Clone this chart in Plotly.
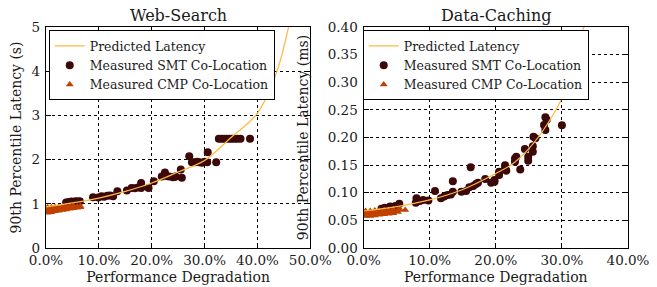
import plotly.graph_objects as go

# ---------------- Data ----------------
# Web-Search (x: performance degradation %, y: 90th percentile latency s)
ws_pred_x = [0, 5, 10, 15, 20, 25, 30, 35, 40, 43.7, 45.9, 47]
ws_pred_y = [0.93, 1.02, 1.13, 1.28, 1.47, 1.72, 1.98, 2.5, 3.05, 4.0, 5.0, 5.6]

ws_smt_x = [3.8, 4.3, 4.8, 5.2, 5.6, 6.0, 6.4, 5.0, 5.8,
            8.9, 9.9, 10.5, 11.0, 11.6, 12.1, 12.7, 13.5,
            15.3, 16.2, 16.8, 17.4, 18.0, 18.0, 19.4, 20.4,
            21.9, 22.5, 22.8, 23.3, 24.0, 24.4, 24.5, 25.5, 25.7,
            27.1, 27.6, 28.1, 28.6, 29.0, 29.5, 30.0, 30.5, 30.6, 32.2,
            32.7, 33.2, 33.7, 34.2, 34.7, 35.2, 35.7, 36.2, 36.8, 38.6]
ws_smt_y = [1.03, 1.04, 1.05, 1.04, 1.06, 1.05, 1.06, 1.02, 1.03,
            1.15, 1.14, 1.17, 1.16, 1.18, 1.19, 1.17, 1.285,
            1.30, 1.36, 1.35, 1.37, 1.36, 1.47, 1.36, 1.51,
            1.62, 1.71, 1.63, 1.62, 1.60, 1.61, 1.62, 1.775, 1.59,
            2.075, 1.94, 1.94, 1.95, 1.94, 1.93, 1.95, 1.94, 2.165, 1.94,
            2.47, 2.47, 2.47, 2.47, 2.47, 2.47, 2.47, 2.47, 2.47, 2.47]

ws_cmp_x = [0.3, 0.3, 0.3, 1.0, 1.0, 1.0, 1.7, 1.7, 1.7, 2.4, 2.4, 2.4,
            3.1, 3.1, 3.1, 3.8, 3.8, 3.8, 4.5, 4.5, 4.5, 5.2, 5.2, 5.2,
            5.9, 5.9, 6.5, 6.5]
ws_cmp_y = [0.80, 0.86, 0.92, 0.81, 0.87, 0.92, 0.83, 0.88, 0.93, 0.84, 0.89, 0.93,
            0.86, 0.90, 0.94, 0.87, 0.91, 0.94, 0.89, 0.92, 0.95, 0.90, 0.93, 0.95,
            0.91, 0.94, 0.92, 0.95]

# Data-Caching (x: performance degradation %, y: 90th percentile latency ms)
dc_pred_x = [0, 5, 10, 15, 20, 22.5, 25, 27, 28.5, 30, 31, 32, 33.3, 34]
dc_pred_y = [0.067, 0.075, 0.087, 0.106, 0.135, 0.152, 0.18, 0.21, 0.238,
             0.272, 0.32, 0.355, 0.40, 0.43]

dc_smt_x = [2.7, 3.2, 4.0, 4.5, 4.8, 5.4,
            7.9, 8.0, 8.5, 9.0, 9.8, 10.8,
            11.7, 12.2, 12.7, 13.2, 13.5, 13.5,
            14.8, 15.5, 16.0, 16.2, 16.6, 17.0, 17.3, 18.4, 19.3, 19.8, 19.8,
            20.5, 20.5, 21.4, 21.4, 21.6, 22.9, 22.9, 23.1, 23.7, 24.4,
            24.9, 24.9, 25.6, 25.6, 25.7, 26.0, 27.3, 27.5, 27.5, 27.7, 30.0]
dc_smt_y = [0.071, 0.073, 0.075, 0.074, 0.076, 0.080,
            0.082, 0.090, 0.085, 0.087, 0.086, 0.103,
            0.090, 0.093, 0.096, 0.097, 0.102, 0.121,
            0.102, 0.103, 0.110, 0.146, 0.112, 0.116, 0.118, 0.125, 0.118, 0.123, 0.120,
            0.138, 0.132, 0.150, 0.145, 0.140, 0.162, 0.156, 0.165, 0.142, 0.179,
            0.165, 0.158, 0.184, 0.174, 0.2015, 0.1985, 0.2226, 0.2136, 0.2365, 0.232, 0.222]

dc_cmp_x = [0.3, 0.3, 0.3, 1.0, 1.0, 1.0, 1.7, 1.7, 1.7, 2.4, 2.4, 2.4,
            3.1, 3.1, 3.1, 3.8, 3.8, 3.8, 4.5, 4.5, 4.5, 5.2, 5.2, 5.5, 6.3]
dc_cmp_y = [0.058, 0.063, 0.067, 0.058, 0.063, 0.067, 0.059, 0.064, 0.068,
            0.060, 0.064, 0.068, 0.061, 0.065, 0.069, 0.062, 0.066, 0.069,
            0.063, 0.067, 0.070, 0.065, 0.069, 0.070, 0.069]

ws_xticks = [0, 10, 20, 30, 40, 50]
dc_xticks = [0, 10, 20, 30, 40]
ws_yticks = [0, 1, 2, 3, 4, 5]
dc_yticks = [0.00, 0.05, 0.10, 0.15, 0.20, 0.25, 0.30, 0.35, 0.40]

# ---------------- Style ----------------
FONT = "DejaVu Serif"
TXT = "#1a1a1a"
FS_TICK = 13.5
FS_TITLE = 14
FS_LEG = 12.5
C_PRED = "#FFB940"
C_SMT = "#3D0808"
C_CMP = "#C04000"

fig = go.Figure()


def add_panel(xa, ya, leg, px, py, sx, sy, cx, cy):
    fig.add_trace(go.Scatter(x=sx, y=sy, mode="markers", name="Measured SMT Co-Location",
                             marker=dict(color=C_SMT, size=8, symbol="circle", line=dict(width=0)),
                             xaxis=xa, yaxis=ya, legend=leg, legendrank=2))
    fig.add_trace(go.Scatter(x=cx, y=cy, mode="markers", name="Measured CMP Co-Location",
                             marker=dict(color=C_CMP, size=7, symbol="triangle-up", line=dict(width=0)),
                             xaxis=xa, yaxis=ya, legend=leg, legendrank=3))
    fig.add_trace(go.Scatter(x=px, y=py, mode="lines", name="Predicted Latency",
                             line=dict(color=C_PRED, width=1.2, shape="spline"),
                             xaxis=xa, yaxis=ya, legend=leg, legendrank=1))


add_panel("x", "y", "legend", ws_pred_x, ws_pred_y, ws_smt_x, ws_smt_y, ws_cmp_x, ws_cmp_y)
add_panel("x2", "y2", "legend2", dc_pred_x, dc_pred_y, dc_smt_x, dc_smt_y, dc_cmp_x, dc_cmp_y)


def axis(title, standoff, lab_off, **kw):
    d = dict(
        automargin=False,
        showline=True, linecolor="black", linewidth=1.3, mirror="allticks",
        ticks="inside", ticklen=5, tickwidth=1, tickcolor="black",
        showgrid=True, gridcolor="black", gridwidth=1, griddash="dot",
        zeroline=False, tickfont=dict(family=FONT, size=FS_TICK, color=TXT),
        ticklabelstandoff=lab_off,
        title=dict(text=title, standoff=standoff,
                   font=dict(family=FONT, size=FS_TITLE, color=TXT)),
    )
    d.update(kw)
    return d


legend_common = dict(xanchor="left", yanchor="top", bgcolor="white",
                     bordercolor="black", borderwidth=1,
                     font=dict(family=FONT, size=FS_LEG, color=TXT), tracegroupgap=0)

fig.update_layout(
    width=649, height=279,
    font=dict(family=FONT, size=FS_TICK, color=TXT),
    margin=dict(l=37.7, r=29.3, t=19, b=38.5, autoexpand=False),
    paper_bgcolor="white", plot_bgcolor="white",
    showlegend=True,
    xaxis=axis("Performance Degradation", 4, 0, domain=[0, 0.4541], range=[0, 50],
               tickvals=ws_xticks, ticktext=[f"{v:.1f}%" for v in ws_xticks], anchor="y"),
    yaxis=axis("90th Percentile Latency (s)", 9, 2, domain=[0, 1], range=[0, 5],
               tickvals=ws_yticks, ticktext=[str(v) for v in ws_yticks], anchor="x"),
    xaxis2=axis("Performance Degradation", 4, 0, domain=[0.5457, 1.0], range=[0, 40],
                tickvals=dc_xticks, ticktext=[f"{v:.1f}%" for v in dc_xticks], anchor="y2"),
    yaxis2=axis("90th Percentile Latency (ms)", 15, 2, domain=[0, 1], range=[0, 0.40],
                tickvals=dc_yticks, ticktext=[f"{v:.2f}" for v in dc_yticks], anchor="x2"),
    legend=dict(x=0.0047, y=0.985, **legend_common),
    legend2=dict(x=0.5442, y=0.985, **legend_common),
    annotations=[
        dict(text="Web-Search", x=0.2270, y=1, xref="paper", yref="paper",
             xanchor="center", yanchor="bottom", yshift=0, showarrow=False,
             font=dict(family=FONT, size=16, color=TXT)),
        dict(text="Data-Caching", x=0.7728, y=1, xref="paper", yref="paper",
             xanchor="center", yanchor="bottom", yshift=0, showarrow=False,
             font=dict(family=FONT, size=16, color=TXT)),
    ],
)

fig.write_html("out.html")
